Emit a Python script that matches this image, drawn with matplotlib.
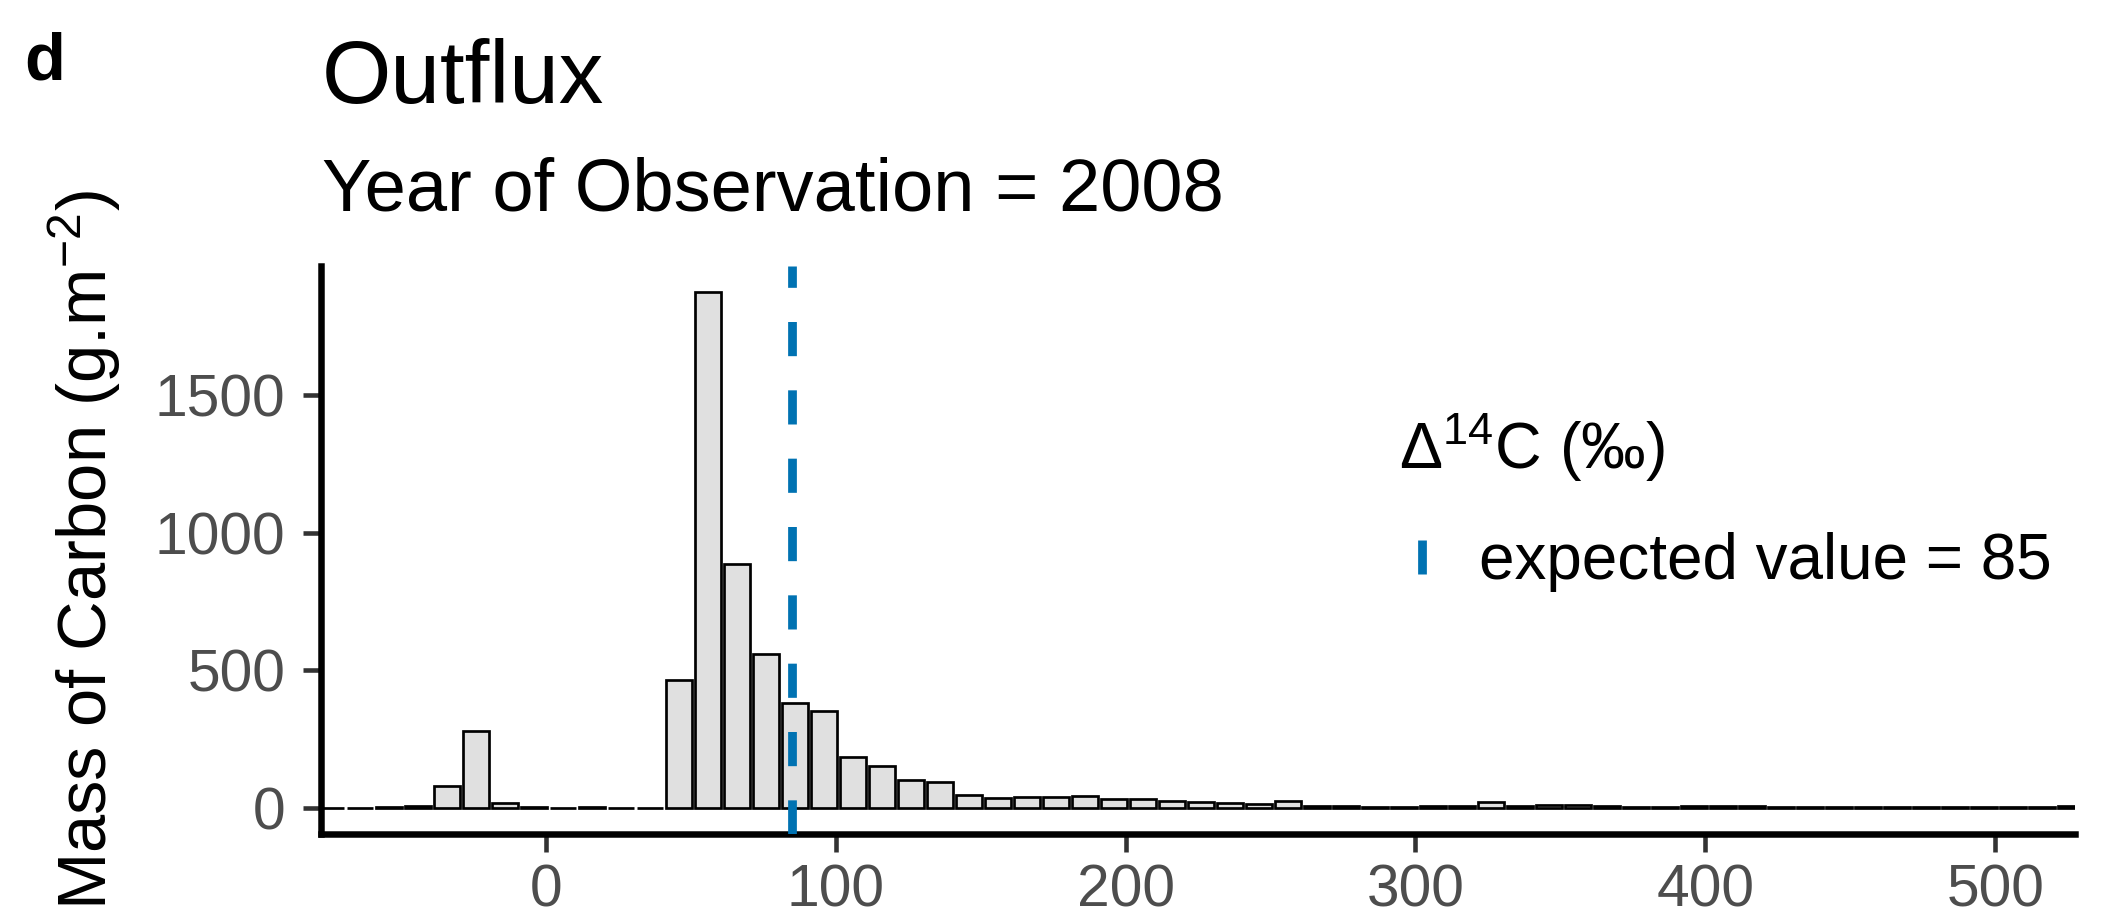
import matplotlib
matplotlib.use("Agg")
import matplotlib.pyplot as plt
from matplotlib.lines import Line2D

plt.rcParams["font.family"] = ["Liberation Sans", "DejaVu Sans"]
plt.rcParams["mathtext.fontset"] = "custom"
plt.rcParams["mathtext.rm"] = "Liberation Sans"
plt.rcParams["mathtext.it"] = "Liberation Sans:italic"
plt.rcParams["mathtext.bf"] = "Liberation Sans:bold"
plt.rcParams["lines.scale_dashes"] = False

# Delta14C bin centres (permil) and mass of carbon in each bin (g m-2)
bin_centers = [-74, -64, -54, -44, -34, -24, -14, -4, 6, 16, 26, 36, 46, 56, 66,
               76, 86, 96, 106, 116, 126, 136, 146, 156, 166, 176, 186, 196, 206,
               216, 226, 236, 246, 256, 266, 276, 286, 296, 306, 316, 326, 336,
               346, 356, 366, 376, 386, 396, 406, 416, 426, 436, 446, 456, 466,
               476, 486, 496, 506, 516, 526]
carbon_mass = [0, 0, 2, 5, 80, 280, 18, 2, 0, 2, 0, 0, 466, 1876, 888,
               559, 382, 352, 186, 150, 99, 93, 48, 35, 40, 39, 42, 33, 31,
               24, 21, 16, 13, 25, 8, 6, 4, 4, 5, 8, 20, 8,
               10, 9, 5, 4, 4, 6, 8, 5, 3, 3, 3, 4, 3,
               4, 4, 4, 4, 4, 6]
bin_width = 10
expected_value = 85

x_ticks = [0, 100, 200, 300, 400, 500]
y_ticks = [0, 500, 1000, 1500]
x_limits = (-50, 500)

W, H, DPI = 2103, 922, 300
fig = plt.figure(figsize=(W / DPI, H / DPI), dpi=DPI)

left, right, top, bottom = 321, 2075, 266, 833.5
ax = fig.add_axes([left / W, 1 - bottom / H, (right - left) / W, (bottom - top) / H])

ax.bar(bin_centers, carbon_mass, width=0.9 * bin_width, color="#E0E0E0",
       edgecolor="black", linewidth=0.65, zorder=2)

ax.axvline(expected_value, color="#0072B2", linewidth=2.1,
           linestyle=(0, (8.2, 8.2)), zorder=3)

span = x_limits[1] - x_limits[0]
ax.set_xlim(x_limits[0] - 0.05 * span, x_limits[1] + 0.05 * span)
ymax = max(carbon_mass)
ax.set_ylim(-0.05 * ymax, 1.05 * ymax)

ax.set_xticks(x_ticks)
ax.set_yticks(y_ticks)
ax.tick_params(axis="both", length=4.3, width=1.1, color="#333333",
               labelcolor="#4D4D4D", labelsize=14.1)
ax.tick_params(axis="y", pad=4.2)
ax.tick_params(axis="x", pad=3.0)

for side in ("top", "right"):
    ax.spines[side].set_visible(False)
for side in ("left", "bottom"):
    ax.spines[side].set_linewidth(1.56)
    ax.spines[side].set_color("black")

ax.set_ylabel("Mass of Carbon (g.m$^{-2}$)", fontsize=16.5, rotation=90,
              rotation_mode="anchor", ha="center", va="baseline")
ax.yaxis.set_label_coords((107 - left) / (right - left), 0.5)

# Titles and panel tag
fig.text(24 / W, 1 - 80 / H, "d", fontsize=16, fontweight="bold", va="baseline")
fig.text(322 / W, 1 - 103 / H, "Outflux", fontsize=21.4, va="baseline")
fig.text(322 / W, 1 - 211 / H, "Year of Observation = 2008", fontsize=17.8,
         va="baseline")

# Legend
handle = Line2D([], [], color="#0072B2", marker="|", linestyle="None",
                markersize=8.2, markeredgewidth=2.1)
leg = ax.legend([handle], ["expected value = 85"], title="Δ$^{14}$C (‰)",
                loc="upper left", bbox_to_anchor=(1399 / W, 1 - 412 / H),
                bbox_transform=fig.transFigure, frameon=False, fontsize=15.3,
                title_fontsize=15.5, handlelength=0.72, handletextpad=0.53,
                borderpad=0, borderaxespad=0, labelspacing=0.75)
leg._legend_box.align = "left"

fig.savefig("out.png", dpi=DPI, facecolor="white")
